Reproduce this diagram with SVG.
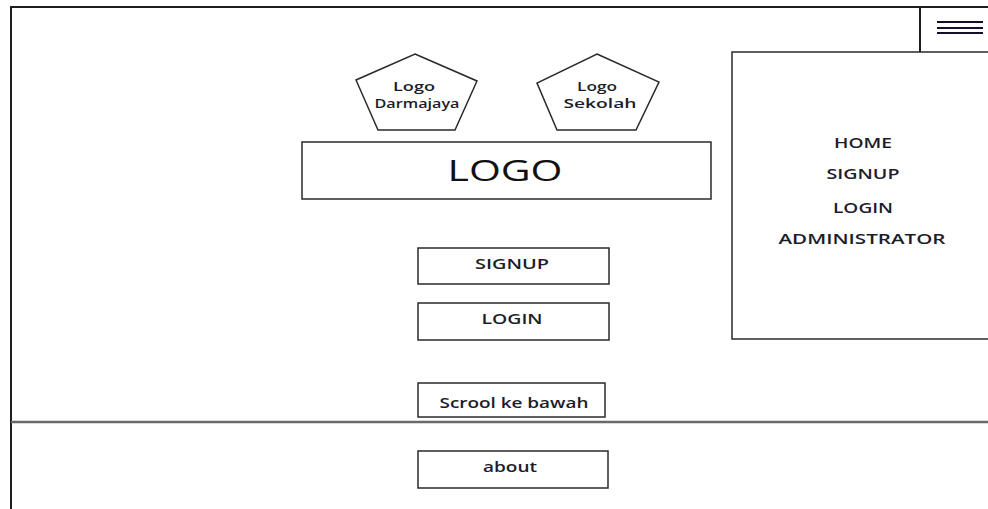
<svg xmlns="http://www.w3.org/2000/svg" width="988" height="509" viewBox="0 0 988 509">
  <style>
    .frame { fill: none; stroke: #1e1e1e; stroke-width: 2; }
    .box { fill: #ffffff; stroke: #2a2a2a; stroke-width: 1.5; }
    .divider { stroke: #6a6a6a; stroke-width: 2.5; }
    .burger { stroke: #10102a; stroke-width: 2.2; }
    .t { font-family: "Open Sans", "Liberation Sans", sans-serif; fill: #1c1c2a; text-anchor: middle; font-weight: 600; }
    .s13 { font-size: 13px; }
    .s15 { font-size: 15px; }
    .s30 { font-size: 30px; fill: #111111; font-weight: 400; }
  </style>
  <rect width="988" height="509" fill="#ffffff"/>

  <!-- page frame -->
  <g id="page-frame">
    <path class="frame" d="M11,509 V7 H988"/>
    <line class="divider" x1="11" y1="422" x2="988" y2="422"/>
  </g>

  <!-- menu toggle -->
  <g id="menu-button">
    <line class="frame" x1="920" y1="7" x2="920" y2="52"/>
    <line class="burger" x1="937" y1="22" x2="983" y2="22"/>
    <line class="burger" x1="937" y1="28" x2="983" y2="28"/>
    <line class="burger" x1="937" y1="33" x2="983" y2="33"/>
  </g>

  <!-- side navigation -->
  <g id="side-menu">
    <rect class="box" x="732" y="52" width="270" height="287"/>
    <text class="t s15" x="863" y="148" textLength="58" lengthAdjust="spacingAndGlyphs">HOME</text>
    <text class="t s15" x="863" y="179" textLength="73" lengthAdjust="spacingAndGlyphs">SIGNUP</text>
    <text class="t s15" x="863" y="213" textLength="60" lengthAdjust="spacingAndGlyphs">LOGIN</text>
    <text class="t s15" x="862" y="244" textLength="167" lengthAdjust="spacingAndGlyphs">ADMINISTRATOR</text>
  </g>

  <!-- logos -->
  <g id="logo-darmajaya">
    <polygon class="box" points="415,54 477,81 455,130 378,130 356,80"/>
    <text class="t s13" x="414" y="91" textLength="42" lengthAdjust="spacingAndGlyphs">Logo</text>
    <text class="t s13" x="417" y="108" textLength="85" lengthAdjust="spacingAndGlyphs">Darmajaya</text>
  </g>
  <g id="logo-sekolah">
    <polygon class="box" points="597,54 659,82 636,130 557,130 537,83"/>
    <text class="t s13" x="597" y="91" textLength="40" lengthAdjust="spacingAndGlyphs">Logo</text>
    <text class="t s13" x="600" y="108" textLength="73" lengthAdjust="spacingAndGlyphs">Sekolah</text>
  </g>

  <g id="logo-main">
    <rect class="box" x="302" y="142" width="409" height="57"/>
    <text class="t s30" x="505" y="181" textLength="115" lengthAdjust="spacingAndGlyphs">LOGO</text>
  </g>

  <!-- buttons -->
  <g id="btn-signup">
    <rect class="box" x="418" y="248" width="191" height="36"/>
    <text class="t s15" x="512" y="269" textLength="74" lengthAdjust="spacingAndGlyphs">SIGNUP</text>
  </g>
  <g id="btn-login">
    <rect class="box" x="418" y="303" width="191" height="37"/>
    <text class="t s15" x="512" y="324" textLength="61" lengthAdjust="spacingAndGlyphs">LOGIN</text>
  </g>
  <g id="btn-scroll">
    <rect class="box" x="418" y="383" width="187" height="34"/>
    <text class="t s15" x="514" y="408" textLength="149" lengthAdjust="spacingAndGlyphs">Scrool ke bawah</text>
  </g>
  <g id="btn-about">
    <rect class="box" x="418" y="451" width="190" height="37"/>
    <text class="t s15" x="510" y="472" textLength="54" lengthAdjust="spacingAndGlyphs">about</text>
  </g>
</svg>
